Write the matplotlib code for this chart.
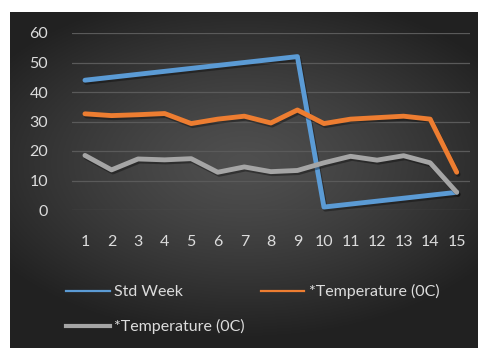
import numpy as np
import matplotlib
matplotlib.use("Agg")
import matplotlib.pyplot as plt
import matplotlib.patheffects as pe
from matplotlib.lines import Line2D

plt.rcParams["font.family"] = ["Lato", "DejaVu Sans"]

# weekly series
weeks = list(range(1, 16))
std_week = [44, 45, 46, 47, 48, 49, 50, 51, 52, 1, 2, 3, 4, 5, 6]
temp_max = [32.6, 32.0, 32.3, 32.7, 29.3, 30.8, 31.8, 29.5, 33.9, 29.3, 30.8, 31.3, 31.8, 30.8, 12.8]
temp_min = [18.5, 13.6, 17.3, 17.0, 17.4, 12.8, 14.6, 13.0, 13.4, 16.0, 18.2, 16.9, 18.4, 16.0, 6.0]
labels = ["Std Week", "*Temperature (0C)", "*Temperature (0C)"]
colors = ["#5b9bd5", "#ed7d31", "#a5a5a5"]

W, H = 478, 348
fig = plt.figure(figsize=(W / 100, H / 100), dpi=100)
fig.patch.set_facecolor("white")

# dark chart area with a soft radial shading
bg = fig.add_axes([10 / W, 0, 1 - 10 / W, 1 - 12 / H])
gx, gy = np.meshgrid(np.linspace(-1, 1, 300), np.linspace(-1, 1, 220))
r = np.sqrt((gx * 0.9) ** 2 + ((gy + 0.1) * 1.1) ** 2)
shade = np.clip(0.31 - 0.15 * r ** 1.3, 0.13, 0.31)
bg.imshow(np.dstack([shade] * 3), aspect="auto", extent=[0, 1, 0, 1])
bg.set_axis_off()

ax = fig.add_axes([71.7 / W, 1 - 210 / H, (470 - 71.7) / W, 177 / H])
ax.patch.set_alpha(0)
shadow = [pe.SimpleLineShadow(offset=(1, -1.5), shadow_color="black", alpha=0.35), pe.Normal()]
series = [std_week, temp_max, temp_min]
for vals, c, lab in zip(series, colors, labels):
    ax.plot(weeks, vals, color=c, lw=3.5, label=lab, clip_on=False,
            solid_joinstyle="round", solid_capstyle="round", path_effects=shadow)

ax.set_xlim(0.5, 15.5)
ax.set_ylim(0, 60)
ax.set_yticks(range(0, 61, 10))
ax.set_xticks(weeks)
ax.grid(axis="y", color="#5a5a5a", lw=0.9)
ax.set_axisbelow(True)
for s in ax.spines.values():
    s.set_visible(False)
ax.tick_params(length=0, colors="#dcdcdc", labelsize=11.5)
ax.tick_params(axis="y", pad=17)
ax.tick_params(axis="x", pad=18)

# legend: two columns, blue + gray on the left, orange on the right
handles = [Line2D([], [], color=colors[0], lw=1.6),
           Line2D([], [], color=colors[2], lw=3.0),
           Line2D([], [], color=colors[1], lw=1.6)]
leg = fig.legend(handles, [labels[0], labels[2], labels[1]], ncol=2,
                 loc="upper left", bbox_to_anchor=(52 / W, 1 - 270 / H),
                 frameon=False, fontsize=11.5, labelcolor="#dcdcdc",
                 handlelength=2.7, handletextpad=0.3, columnspacing=1.0,
                 labelspacing=1.25)

fig.savefig("out.png", dpi=100)
